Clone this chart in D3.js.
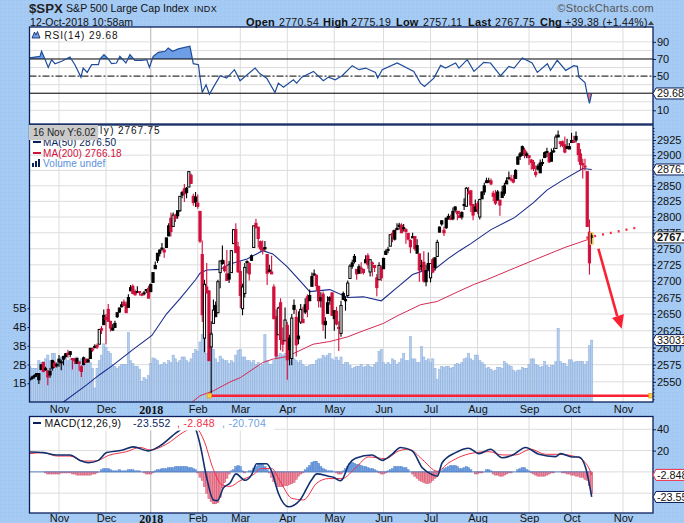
<!DOCTYPE html>
<html>
<head>
<meta charset="utf-8">
<script src="https://cdn.jsdelivr.net/npm/d3@7"></script>
<style>
html,body{margin:0;padding:0;background:#a5caf3;overflow:hidden}
text{font-family:"Liberation Sans",Arial,sans-serif}
.axis path{display:none}
.axis line{stroke:#0a1f5c}
.axis text{fill:#111;font-size:11px}
</style>
</head>
<body>
<svg id="chart" width="684" height="523"></svg>
<script>
// values, one entry per trading day from 13 Oct 2017
var opens = [2555,2555,2558,2562,2553,2568,2578,2568,2566,2565,
2570,2577,2575,2583,2579,2583,2587,2592,2590,2584,
2582,2577,2577,2572,2575,2583,2579,2584,2598,2600,
2603,2605,2628,2634,2645,2657,2639,2626,2630,2646,
2653,2661,2668,2665,2660,2685,2692,2684,2684,2684,2679,2682,2687,2689,
2684,2698,2719,2732,2743,2751,2745,2752,2770,2798,2785,2802,2802,2810,2835,2845,2846,2848,2867,2833,2832,
2817,2809,2741,2614,2691,2685,2601,2636,2646,2652,2713,2727,2722,2711,2711,2713,2758,2780,2753,
2715,2658,2681,2730,2711,2732,2752,2790,2784,2761,2750,2750,2741,2715,2714,2691,2646,2619,2667,2611,2610,
2633,2597,2584,2657,2645,2617,2638,2637,2653,2676,2670,2692,2711,2709,2692,2675,2680,2634,2651,2675,2682,
2643,2654,2629,2621,2681,2670,2678,2704,2723,2738,2718,2712,2719,2718,2728,2739,2714,2728,2724,2705,2702,2720,
2719,2741,2748,2754,2774,2765,2780,2785,2787,2783,2777,2765,2753,2769,2769,2743,2742,2723,2729,2699,2727,
2705,2733,2721,2738,2776,2789,2779,2783,2797,2798,2797,2811,2809,2799,2800,2820,2817,2840,2842,2820,2809,
2821,2800,2829,2840,2855,2856,2858,2838,2836,2827,2827,2831,2838,2853,2861,2861,2860,2862,2885,2902,2900,2908,2899,
2899,2892,2888,2868,2882,2871,2888,2896,2906,2903,2890,2906,2911,2933,2922,2922,2917,2911,2910,2921,2923,2931,2919,2902,2886,2882,2873,2776,2770.54];
var highs = [2555,2559,2561,2562,2563,2575,2579,2572,2567,2570,
2582,2580,2578,2589,2582,2588,2592,2597,2595,2584,
2585,2585,2579,2574,2587,2584,2584,2599,2600,2605,
2606,2627,2632,2657,2650,2665,2640,2635,2640,2652,
2660,2669,2672,2669,2680,2694,2695,2687,2692,2685,2682,2685,2688,2693,
2696,2714,2730,2743,2749,2759,2751,2767,2790,2807,2807,2805,2810,2833,2842,2853,2848,2873,2870,2837,2840,
2836,2809,2763,2702,2728,2686,2639,2672,2669,2702,2731,2755,2732,2748,2731,2748,2780,2790,2761,
2730,2696,2728,2732,2729,2741,2786,2797,2784,2763,2763,2762,2741,2725,2739,2695,2657,2661,2674,2630,2660,
2638,2619,2650,2672,2657,2654,2665,2661,2674,2680,2687,2713,2718,2710,2693,2683,2684,2645,2677,2677,2683,
2655,2661,2639,2670,2684,2676,2701,2726,2733,2742,2718,2726,2729,2719,2740,2743,2733,2730,2724,2711,2729,2724,
2736,2749,2753,2772,2779,2779,2790,2791,2790,2789,2782,2775,2765,2775,2763,2765,2742,2733,2746,2725,2744,
2727,2736,2736,2764,2785,2795,2785,2799,2805,2804,2815,2817,2810,2810,2809,2830,2848,2848,2842,2820,2828,
2825,2829,2841,2855,2863,2863,2862,2842,2843,2843,2827,2850,2855,2864,2873,2868,2868,2877,2898,2905,2916,2912,2906,
2900,2894,2892,2883,2886,2893,2894,2906,2912,2904,2911,2912,2934,2941,2923,2924,2931,2927,2920,2937,2932,2939,2919,2910,2894,2894,2874,2796,2775.19];
var lows = [2552,2553,2555,2557,2547,2567,2564,2566,2545,2556,
2566,2570,2571,2572,2567,2574,2584,2585,2586,2568,
2576,2576,2566,2557,2574,2577,2578,2584,2594,2599,
2598,2605,2620,2634,2605,2639,2624,2625,2629,2644,
2652,2660,2662,2652,2660,2685,2680,2678,2682,2678,2677,2678,2682,2674,
2683,2698,2719,2728,2738,2747,2736,2752,2770,2769,2785,2792,2797,2808,2830,2824,2830,2848,2853,2818,2816,
2813,2759,2638,2593,2681,2580,2533,2636,2646,2651,2689,2725,2713,2700,2697,2713,2758,2744,2713,
2659,2648,2675,2712,2701,2731,2752,2782,2752,2747,2741,2747,2694,2713,2711,2642,2585,2619,2596,2594,2610,
2553,2574,2574,2650,2587,2605,2635,2639,2650,2645,2670,2692,2709,2686,2660,2660,2625,2613,2651,2664,2648,
2625,2633,2595,2616,2671,2655,2675,2704,2719,2727,2702,2712,2711,2710,2728,2719,2707,2707,2714,2677,2702,2700,
2719,2741,2743,2754,2760,2763,2780,2780,2775,2777,2758,2763,2743,2767,2747,2743,2699,2716,2698,2692,2718,
2698,2712,2716,2738,2776,2786,2770,2781,2796,2795,2795,2807,2795,2799,2796,2811,2817,2836,2808,2795,2809,
2805,2796,2829,2835,2855,2855,2851,2825,2819,2826,2802,2831,2834,2853,2861,2857,2854,2862,2885,2892,2899,2895,2895,
2884,2876,2874,2864,2875,2871,2882,2896,2897,2887,2890,2904,2911,2930,2913,2913,2903,2910,2910,2921,2920,2921,2889,2875,2862,2875,2784,2710,2757.11];
var closes = [2553,2557,2559,2561,2562,2575,2565,2569,2557,2560,
2581,2572,2575,2579,2579,2587,2591,2590,2594,2584,
2582,2584,2579,2565,2585,2578,2582,2599,2597,2602,
2601,2627,2626,2648,2642,2639,2629,2629,2636,2652,
2659,2664,2663,2652,2675,2690,2681,2679,2684,2683,2680,2682,2687,2674,
2695,2713,2724,2743,2748,2751,2748,2767,2786,2777,2803,2798,2810,2833,2839,2837,2839,2873,2854,2823,2824,
2822,2762,2649,2695,2682,2581,2620,2656,2663,2699,2731,2732,2716,2701,2703,2747,2780,2744,2714,
2678,2691,2721,2729,2727,2739,2786,2783,2766,2750,2748,2752,2712,2717,2711,2643,2588,2659,2612,2605,2641,
2582,2614,2644,2663,2604,2613,2657,2642,2664,2657,2678,2707,2709,2693,2670,2670,2635,2639,2667,2670,2648,
2655,2635,2630,2663,2672,2672,2697,2723,2728,2730,2711,2722,2720,2713,2733,2725,2733,2728,2721,2690,2724,2705,
2735,2746,2749,2772,2770,2779,2782,2787,2775,2782,2780,2774,2763,2767,2750,2755,2717,2724,2700,2716,2718,
2727,2714,2736,2760,2784,2794,2775,2798,2801,2798,2809,2816,2805,2802,2807,2820,2846,2838,2819,2803,2816,
2813,2828,2840,2850,2858,2858,2853,2833,2822,2840,2819,2840,2850,2858,2863,2861,2856,2875,2897,2898,2914,2901,2902,
2896,2888,2878,2872,2877,2887,2888,2904,2905,2889,2904,2907,2930,2930,2919,2916,2905,2914,2914,2924,2923,2925,2901,2885,2884,2881,2785,2728,2767.75];

var volumes = [1.9,1.8,1.8,1.8,2.2,2.1,2.15,2.3,2.5,2.2,2.6,2.6,2.05,2.1,2.4,2.4,2.3,2.2,2.3,2.2,
2.1,2.4,2.2,2.3,2.1,2.0,2.2,2.1,1.8,0.75,1.8,2.2,2.5,3.1,2.9,2.7,2.6,2.0,1.9,1.8,
1.9,2.0,2.0,2.0,3.7,2.2,2.05,1.9,1.9,1.75,1.1,1.3,1.2,1.4,2.05,2.35,2.3,2.2,1.95,2.0,
2.1,2.0,2.2,2.1,2.5,2.3,2.1,2.2,2.4,2.4,2.2,2.1,2.3,2.6,2.8,2.7,3.2,3.6,3.6,2.6,
2.7,3.7,2.8,2.3,2.1,2.45,2.3,2.2,2.2,2.05,2.2,2.1,2.5,2.75,2.8,2.4,2.4,2.2,2.2,2.1,
2.2,2.0,2.1,1.9,2.0,3.6,2.2,2.0,2.0,2.2,2.5,2.5,2.6,2.5,2.6,2.4,2.2,2.4,2.3,2.2,
2.1,2.2,2.0,1.9,1.9,1.95,2.0,2.0,2.2,2.3,2.3,2.5,2.4,2.5,2.6,2.3,2.2,2.4,2.2,2.4,
2.0,2.1,2.1,1.95,1.8,1.85,1.9,1.9,2.0,1.85,1.9,2.0,1.9,1.85,2.0,2.1,2.7,2.8,2.1,2.0,
2.1,2.0,2.3,2.2,2.0,2.1,2.3,2.6,2.2,2.2,3.5,2.3,2.3,2.1,2.1,2.95,2.4,2.2,2.3,2.1,
2.3,1.8,1.2,1.75,1.9,1.85,1.9,1.9,1.8,1.85,2.0,2.05,2.0,2.1,2.3,2.35,2.6,2.3,2.2,2.5,
2.5,2.2,2.1,2.0,1.8,1.85,1.75,1.65,1.7,1.85,1.85,1.8,2.15,2.05,1.95,1.9,1.7,1.6,1.7,1.7,
1.85,1.8,1.8,2.0,2.3,2.3,2.0,1.95,1.85,1.9,2.15,1.95,1.85,1.95,1.95,2.15,3.93,2.15,2.05,2.05,
1.9,2.25,2.25,2.1,2.15,2.15,2.15,2.15,2.0,2.15,3.0,3.3];

var ma50Days = [15,25.5,31,37,46,54.5,61,67,74,76,79,85,89,97,104,108.5,115,121,125,134,142,149,157,164,171,176,180,187,192,197,206,216.5,225,231,237.5,247,251];
var ma50Vals = [2521,2546,2560,2574,2597,2618,2650,2673,2702,2712,2717,2718,2726,2734,2747,2742,2722,2699,2684,2687,2675,2676,2670,2690,2710,2716,2716,2735,2747,2758,2780,2799,2823,2843,2858,2878,2876.5];
var ma200Days = [72.5,76,82,89.5,94,104,108.5,115,126.5,134,142,149,158,164,174.5,182,192,198.5,204,216.5,227,239,249,251];
var ma200Vals = [2521,2530,2537,2550,2556,2578,2583,2587,2605,2609,2616,2625,2636,2647,2664,2669,2685,2695,2702,2720,2735,2752,2764,2766.18];

var rsiDays = [0,4.5,5.2,6.7,8.2,9.7,11.2,14.2,17.9,20.1,22.8,23.8,25.6,27.6,30.6,31.3,33.1,35,36.5,38.7,40.2,42.9,44.7,46.9,49.9,52.2,53.4,55.1,57.4,60.4,61.8,63.8,66.3,71.5,73,75.3,76,77,78.7,80.2,82,85,87.9,91.4,93.9,100.6,102.8,105.8,109.5,111,113.3,117.7,119.2,121.5,126.7,131.1,133.4,136.4,139.5,
144,147,150,154.4,155.4,157.4,164.1,171.5,174.5,176.3,180.5,183.5,185.7,190.2,191.7,195.4,198.4,202.8,205.8,210.3,214,216.3,220,224.4,226.7,231.2,232.6,235.6,239.4,243,244.6,245.3,248,249,250,251];
var rsiVals = [71.2,73.1,79,70,60.2,69.2,64.5,67.3,72.4,63.3,48.8,59.4,54.3,63.3,63.3,70,75.1,70,64.5,65.3,73.1,65.3,75.1,68.4,68.4,69.2,60.2,73.1,77.8,79,82.9,79,81.8,84.9,64.5,63.3,48.8,30.8,39.8,28.8,37.1,50.4,47.6,57.5,44.5,59.4,52.7,47.6,30.8,41.8,37.1,45.7,41.8,48.8,55.5,44.5,48.8,45.7,50.4,
62.2,57.5,59.4,54.3,47.6,57.5,65.3,55.5,41.8,37.9,47.6,62.5,59.4,65.3,59.4,69.2,55.5,66.1,65.3,50.4,61.4,59.4,71.2,65.3,54.3,64.5,56.7,68.4,56.7,62.2,61.4,48.8,42.5,28.8,18.2,29.68];

var macdDays = [0,6,11.9,17.9,22.4,26.1,30.6,34.3,41,46.2,52.9,58.1,65.6,71.5,73.8,76,79,82,83.8,86.4,89.4,92.1,96.1,99.1,101.3,105.8,108,111,115.5,120.7,125.9,128.2,133.4,135.6,138.6,139.5,142.5,145.5,152.9,157.4,161.8,165.6,170.8,175.3,179.7,182,184.2,190.2,196.1,200.6,205.8,211,215.5,221.5,227.4,234.9,237.1,242.3,245.3,248.3,251];
var macdVals = [18.7,18.1,15.9,15.9,10.8,8.6,10.8,18.1,20.3,23.5,19.7,24.4,37.1,45,41.3,26,-5.7,-26.3,-27,-15.2,-10.5,-1.9,-7.9,-2.5,7.6,7.6,0.6,-20,-32.7,-26.3,-7.3,-1.9,-4.1,-5.1,-8.3,-7.3,7,12.7,15.9,10.8,16.5,22.9,19.7,3.8,-2.5,-4.1,8.6,18.1,22.2,17.1,21.3,13.3,15.6,22.9,16.5,14.3,17.1,14,14,3.8,-23.55];
var signalDays = [0,6,11.9,17.9,23.8,29,35.8,43.2,49.2,53.7,61,68.5,73.8,77.5,82,85.7,89.4,93.9,99.9,103.6,108,111.8,117,122.2,128.2,133.4,139.5,145.5,151.4,158.9,164.8,169.3,175.3,182,187.2,193.1,199.1,205.1,211,217,223.7,230.4,236.4,243.8,247.5,249.7,251];
var signalVals = [17.1,18.1,14.9,14.9,10.2,10.2,15.9,19,23,20.6,26,37.1,41.9,30.8,2.2,-12,-13.6,-8.3,-2.5,3.2,3.2,-8.9,-24.8,-26.3,-10.5,-6.3,-6.3,3.8,14,12.4,19.7,21.3,11.7,0.6,8.6,14.9,18.1,19,15.9,15.9,21.3,16.5,16.5,14.3,10.2,3.8,-2.85];
var histVals = [0,0,0,0,0,0,0,-1,-2,-2,-2,-2,-2,-2,-1,-1,-1,-1,-1,
-2,-2,-3,-3,-3,-3,-3,-3,-3,-2,-2,-1,0,2,3,3,3,2,
1,1,1,2,1,1,1,2,2,2,1,1,1,0,-1,-2,-2,-2,-1,1,2,2,3,3,3,
4,4,4,5,5,5,5,5,5,4,4,3,2,-1,-5,-8,-14,-20,-25,-28,-30,-30,-29,-24,-15,-10,-6,-2,
1,2,5,6,5,1,-1,0,1,1,3,5,7,8,7,5,2,-1,-5,-9,
-12,-14,-14,-14,-13,-13,-12,-11,-10,-7,-4,-2,-1,2,4,6,9,10,10,8,5,3,2,1,
1,1,0,-1,-2,-2,1,3,5,8,9,8,7,7,6,5,5,4,3,3,2,1,-1,-2,-2,-1,
1,2,3,5,5,5,5,4,4,2,0,-2,-4,-6,-8,-9,-10,-11,-11,-10,-8,-6,-3,0,
1,3,4,5,6,6,6,5,3,3,4,5,4,2,0,-2,-2,-1,-1,0,2,2,1,-2,-3,-3,-4,-4,-3,
-2,-1,-1,0,0,2,3,4,4,2,1,-1,-2,-3,-4,-4,-4,-4,-3,-2,-1,-1,0,0,0,-1,
-1,-2,-2,-3,-3,-4,-4,-5,-5,-7,-8,-13,-20.7];

var monthDays = [13,34,54,75,94,115,136,158,179,200,223,242,265];
var monthNames = ["Nov","Dec","2018","Feb","Mar","Apr","May","Jun","Jul","Aug","Sep","Oct","Nov"];
var priceTicks = [2550,2575,2600,2625,2650,2675,2700,2725,2750,2775,2800,2825,2850,2900,2925];
var volumeTicks = [1,2,3,4,5];
var rsiTicks = [10,50,70,90];
var rsiGrid = [10,20,40,60,80,90];
var macdTicks = [20,40];
var macdGrid = [-20,0,20,40];

// hand drawn annotations, in day / price terms
var supportDays = [80.2,277.5], supportVals = [2530,2530];
var dottedDays = [248.6,272.3], dottedVals = [2767,2784];
var arrowDays = [254,262.4], arrowVals = [2750,2647];
var headDays = [260.1,265.4,264.4], headVals = [2644,2650,2628];

var navy = "#0a1f5c", red = "#d0103c", gridCol = "#dcdcdc";
var left = 29.5, right = 653;
var rsiTop = 27, rsiBot = 124, mainTop = 125, mainBot = 402, macdTop = 416.5, macdBot = 513;

var svg = d3.select("#chart");
var defs = svg.append("defs");

// faint dotted background
var pat = defs.append("pattern").attr("id","dots").attr("width",4).attr("height",4).attr("patternUnits","userSpaceOnUse");
pat.append("rect").attr("width",1).attr("height",1).attr("fill","#8fb8e8").attr("opacity",.45);
svg.append("rect").attr("width",684).attr("height",523).attr("fill","url(#dots)");

var x = d3.scaleLinear().domain([0,277.9]).range([29.9,651.9]);
var yRsi = d3.scaleLinear().domain([-6,107.4]).range([rsiBot,rsiTop]);
var yPrice = d3.scaleLog().domain([2521,2950]).range([mainBot,mainTop]);
var yVol = d3.scaleLinear().domain([0,14.77]).range([mainBot,mainTop]);
var yMacd = d3.scaleLinear().domain([-38.6,52]).range([macdBot,macdTop]);

function panel(top,bot,id){
  svg.append("rect").attr("x",left).attr("y",top).attr("width",right-left).attr("height",bot-top).attr("fill","#fff");
  defs.append("clipPath").attr("id",id).append("rect").attr("x",left).attr("y",top).attr("width",right-left).attr("height",bot-top);
  var g = svg.append("g").attr("clip-path","url(#"+id+")");
  g.selectAll(".vg").data(monthDays).enter().append("line")
    .attr("x1",function(d){return x(d)}).attr("x2",function(d){return x(d)})
    .attr("y1",top).attr("y2",bot)
    .attr("stroke",function(d,i){return monthNames[i]=="2018" ? "#b4b4b4" : gridCol});
  return g;
}
function hgrid(g,vals,scale){
  g.selectAll(".hg").data(vals).enter().append("line")
    .attr("x1",left).attr("x2",right)
    .attr("y1",function(d){return scale(d)}).attr("y2",function(d){return scale(d)})
    .attr("stroke",gridCol);
}
function points(days,vals){
  return days.map(function(d,i){return [d,vals[i]]});
}

// RSI panel
var rsiG = panel(rsiTop,rsiBot,"clipRsi");
hgrid(rsiG,rsiGrid,yRsi);
var rsiPts = points(rsiDays,rsiVals);
defs.append("clipPath").attr("id","rsiHigh").append("rect").attr("x",left).attr("y",rsiTop).attr("width",right-left).attr("height",yRsi(70)-rsiTop);
defs.append("clipPath").attr("id","rsiLow").append("rect").attr("x",left).attr("y",yRsi(30)).attr("width",right-left).attr("height",rsiBot-yRsi(30));
var rsiArea70 = d3.area().x(function(d){return x(d[0])}).y0(yRsi(70)).y1(function(d){return yRsi(d[1])});
var rsiArea30 = d3.area().x(function(d){return x(d[0])}).y0(yRsi(30)).y1(function(d){return yRsi(d[1])});
rsiG.append("path").attr("d",rsiArea70(rsiPts)).attr("fill","#6e9fe6").attr("clip-path","url(#rsiHigh)");
rsiG.append("path").attr("d",rsiArea30(rsiPts)).attr("fill","#f0708a").attr("clip-path","url(#rsiLow)");
[70,30].forEach(function(v){
  rsiG.append("line").attr("x1",left).attr("x2",right).attr("y1",yRsi(v)).attr("y2",yRsi(v)).attr("stroke","#000");
});
rsiG.append("line").attr("x1",left).attr("x2",right).attr("y1",yRsi(50)).attr("y2",yRsi(50)).attr("stroke","#000").attr("stroke-dasharray","7 2 2 2");
var dayLine = d3.line().x(function(d){return x(d[0])});
rsiG.append("path").attr("d",dayLine.y(function(d){return yRsi(d[1])})(rsiPts)).attr("fill","none").attr("stroke","#1d4c9a").attr("stroke-width",1.2);

// price panel
var mainG = panel(mainTop,mainBot,"clipMain");
hgrid(mainG,d3.range(2550,2950,25),yPrice);
mainG.selectAll(".vol").data(volumes).enter().append("rect")
  .attr("x",function(d,i){return x(i)-1.1}).attr("width",2.2)
  .attr("y",function(d){return yVol(d)}).attr("height",function(d){return mainBot-yVol(d)})
  .attr("fill","#a9c5ea").attr("fill-opacity",.85).attr("stroke","#8aaedd").attr("stroke-width",.5);

mainG.append("path").attr("d",dayLine.y(function(d){return yPrice(d[1])})(points(ma200Days,ma200Vals))).attr("fill","none").attr("stroke","#d42a52").attr("stroke-width",1);
mainG.append("path").attr("d",dayLine.y(function(d){return yPrice(d[1])})(points(ma50Days,ma50Vals))).attr("fill","none").attr("stroke","#1a2a8c").attr("stroke-width",1.1);

// candles: black when up on the prior close, red when down; only the taller up bodies show hollow at this size
function candleCol(i){ return i>0 && closes[i]<closes[i-1] ? red : "#000"; }
mainG.selectAll(".wick").data(closes).enter().append("line")
  .attr("x1",function(d,i){return x(i)}).attr("x2",function(d,i){return x(i)})
  .attr("y1",function(d,i){return yPrice(highs[i])}).attr("y2",function(d,i){return yPrice(lows[i])})
  .attr("stroke",function(d,i){return candleCol(i)}).attr("stroke-width",1.1);
mainG.selectAll(".body").data(closes).enter().append("rect")
  .attr("x",function(d,i){return x(i)-1.1}).attr("width",2.2)
  .attr("y",function(d,i){return yPrice(Math.max(opens[i],d))})
  .attr("height",function(d,i){return Math.max(1,yPrice(Math.min(opens[i],d))-yPrice(Math.max(opens[i],d)))})
  .attr("fill",function(d,i){return d-opens[i]>=18 ? "#fff" : candleCol(i)})
  .attr("stroke",function(d,i){return candleCol(i)}).attr("stroke-width",1);
// last bar outlined in yellow
mainG.append("rect").attr("x",x(251)-1.5).attr("width",3)
  .attr("y",yPrice(highs[251])).attr("height",yPrice(lows[251])-yPrice(highs[251]))
  .attr("fill","none").attr("stroke","#f2d24a").attr("stroke-width",1);

// annotations
var annot = d3.line().x(function(d){return x(d[0])}).y(function(d){return yPrice(d[1])});
mainG.append("path").attr("d",annot(points(supportDays,supportVals))).attr("stroke","#fb2134").attr("stroke-width",2.4).attr("fill","none");
mainG.selectAll(".handle").data(points(supportDays,supportVals)).enter().append("rect")
  .attr("x",function(d){return x(d[0])-2.2}).attr("y",function(d){return yPrice(d[1])-2.2})
  .attr("width",4.4).attr("height",4.4).attr("fill","#ffd23c").attr("stroke","#e89a1a").attr("stroke-width",.8);
mainG.append("path").attr("d",annot(points(dottedDays,dottedVals))).attr("stroke","#f0304a").attr("stroke-width",2.4).attr("stroke-dasharray","2 6").attr("fill","none");
mainG.append("path").attr("d",annot(points(arrowDays,arrowVals))).attr("stroke","#fb2134").attr("stroke-width",2.6).attr("fill","none");
mainG.append("path").attr("d",annot(points(headDays,headVals))+"Z").attr("fill","#fb2134");

// MACD panel
var macdG = panel(macdTop,macdBot,"clipMacd");
hgrid(macdG,macdGrid,yMacd);
macdG.selectAll(".hist").data(histVals).enter().append("rect")
  .attr("x",function(d,i){return x(i)-1.1}).attr("width",2.2)
  .attr("y",function(d){return Math.min(yMacd(d),yMacd(0))})
  .attr("height",function(d){return Math.abs(yMacd(d)-yMacd(0))})
  .attr("fill",function(d){return d<0 ? "#ee8a9c" : "#6f9fe0"})
  .attr("stroke",function(d){return d<0 ? "#c8405e" : "#4a7cc8"}).attr("stroke-width",.4);
macdG.append("line").attr("x1",left).attr("x2",x(251)).attr("y1",yMacd(0)).attr("y2",yMacd(0)).attr("stroke","#5b86c8");
var macdLine = d3.line().curve(d3.curveMonotoneX).x(function(d){return x(d[0])}).y(function(d){return yMacd(d[1])});
macdG.append("path").attr("d",macdLine(points(signalDays,signalVals))).attr("fill","none").attr("stroke","#f0304a").attr("stroke-width",1);
macdG.append("path").attr("d",macdLine(points(macdDays,macdVals))).attr("fill","none").attr("stroke","#12306e").attr("stroke-width",1.6);
// the legend sits on a white strip that hides the top of the lines
macdG.append("rect").attr("x",left).attr("y",macdTop).attr("width",245).attr("height",14).attr("fill","#fff");

// panel borders
[[rsiTop,rsiBot],[mainTop,mainBot],[macdTop,macdBot]].forEach(function(p){
  svg.append("rect").attr("x",left).attr("y",p[0]).attr("width",right-left).attr("height",p[1]-p[0])
    .attr("fill","none").attr("stroke",navy).attr("stroke-width",1.3);
});

// axes
var rightAxis = function(scale,vals){
  return d3.axisRight(scale).tickValues(vals).tickSize(3).tickPadding(1).tickFormat(d3.format("d"));
};
svg.append("g").attr("class","axis").attr("transform","translate("+right+",0)").call(rightAxis(yRsi,rsiTicks));
svg.append("g").attr("class","axis").attr("transform","translate("+right+",0)").call(rightAxis(yPrice,priceTicks));
svg.append("g").attr("class","axis").attr("transform","translate("+right+",0)").call(rightAxis(yMacd,macdTicks));
svg.append("g").attr("class","axis").attr("transform","translate("+right+",0)")
  .call(d3.axisRight(yPrice).tickValues(d3.range(2525,2950,5)).tickSize(1.5).tickFormat(""));
svg.append("g").attr("class","axis").attr("transform","translate("+left+",0)")
  .call(d3.axisLeft(yVol).tickValues(volumeTicks).tickSize(2).tickPadding(1).tickFormat(function(d){return d+"B"}));

[mainBot+9,macdBot+7].forEach(function(y0){
  var ax = svg.append("g").attr("class","axis month").attr("transform","translate(0,"+(y0-9)+")")
    .call(d3.axisBottom(x).tickValues(monthDays).tickSize(0).tickPadding(3).tickFormat(function(d,i){return monthNames[i]}));
  ax.selectAll("text").filter(function(d,i){return monthNames[i]=="2018"})
    .style("font-family","'Liberation Serif',serif").style("font-weight","bold").style("font-size","12px");
});

// value flags on the right edge
function flag(yv,label,col,bold){
  var g = svg.append("g").attr("transform","translate("+right+","+yv+")");
  g.append("path").attr("d",d3.line()([[0,0],[3,-5.5],[40,-5.5],[40,5.5],[3,5.5]])+"Z").attr("fill","#fff").attr("stroke",col).attr("stroke-width",1);
  g.append("text").attr("x",4).attr("y",4).attr("font-size",bold?11:10.8).attr("font-weight",bold?"bold":"normal").attr("fill","#111").text(label);
}
flag(yRsi(29.68),"29.68",navy);
flag(yPrice(2876.5),"2876.5",navy);
flag(yPrice(2767.75),"2767.7","#333",true);
flag(yVol(3.3),"33031",navy);
flag(yMacd(-2.848),"-2.848","#f0304a");
flag(yMacd(-23.552),"-23.55",navy);

// header
function label(px,py,txt,size,opt){
  opt = opt || {};
  return svg.append("text").attr("x",px).attr("y",py).attr("font-size",size)
    .attr("font-weight",opt.bold?"bold":"normal").attr("fill",opt.fill||"#111")
    .attr("letter-spacing",opt.sp||0).attr("text-anchor",opt.anchor||"start").text(txt);
}
label(29,13,"$SPX",13.2,{bold:true,fill:"#222"});
label(66,12,"S&P 500 Large Cap Index",10.6);
label(194,12,"INDX",9,{sp:.4});
label(30,25.5,"12-Oct-2018 10:58am",10.5,{sp:.05});
label(654,12,"©StockCharts.com",11,{fill:"#555",anchor:"end",sp:.3});
label(246,25.5,"Open",11,{bold:true,sp:.2});
label(279,25.5,"2770.54",10.5,{sp:.3});
label(323,25.5,"High",11,{bold:true,sp:.2});
label(351,25.5,"2775.19",10.5,{sp:.3});
label(396,25.5,"Low",11,{bold:true,sp:.2});
label(423,25.5,"2757.11",10.5,{sp:.3});
label(468,25.5,"Last",11,{bold:true,sp:.2});
label(495,25.5,"2767.75",10.5,{sp:.3});
label(540,25.5,"Chg",11,{bold:true,sp:.2});
label(565,25.5,"+39.38 (+1.44%)",10.5,{sp:.3});
svg.append("path").attr("d",d3.line()([[648,25],[654,25],[651,21]])+"Z").attr("fill","#444");

// legends
svg.append("path").attr("d",d3.line()([[32,38],[34.5,32],[36,35],[37.5,31.5],[40,38]])+"Z").attr("fill","#6e9fe6").attr("stroke",navy).attr("stroke-width",.8);
label(44.5,38.5,"RSI(14) 29.68",10,{sp:.9});

label(115,134,"$SPX (Daily)",10,{anchor:"end",sp:1.5});
label(118,134,"2767.75",10,{sp:.9});
svg.append("line").attr("x1",33).attr("x2",41).attr("y1",142).attr("y2",142).attr("stroke",navy).attr("stroke-width",2);
label(43,146,"MA(50) 2876.50",10,{fill:navy,sp:.1});
svg.append("line").attr("x1",33).attr("x2",41).attr("y1",153).attr("y2",153).attr("stroke",red).attr("stroke-width",2);
label(43,157,"MA(200) 2766.18",10,{fill:red,sp:.1});
svg.selectAll(".vk").data([3,5,7]).enter().append("rect").attr("x",function(d,i){return 32+i*3}).attr("y",function(d){return 167-d-1}).attr("width",2).attr("height",function(d){return d+1}).attr("fill",navy);
label(43,167,"Volume undef",10,{fill:"#5b8fdc",sp:.1});
svg.append("rect").attr("x",29).attr("y",125).attr("width",69).attr("height",15).attr("fill","#c9c9c9");
label(33,136,"16 Nov Y:6.02",10,{fill:"#222"});

svg.append("line").attr("x1",33).attr("x2",41).attr("y1",423).attr("y2",423).attr("stroke",navy).attr("stroke-width",2);
label(44.5,427,"MACD(12,26,9)",10.5,{sp:.3});
label(133,427,"-23.552",10.5,{fill:navy,sp:.3});
label(177,427,", -2.848",10.5,{fill:"#f0304a",sp:.3});
label(222,427,", -20.704",10.5,{fill:"#6e9fe6",sp:.3});
</script>
</body>
</html>
